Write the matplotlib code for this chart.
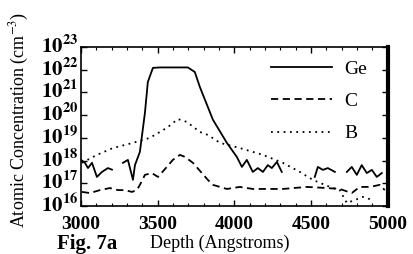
import numpy as np
import matplotlib
matplotlib.use("Agg")
import matplotlib.pyplot as plt
import matplotlib.transforms as mtransforms
from matplotlib.ticker import FixedLocator, FixedFormatter, MultipleLocator

plt.rcParams['font.family'] = ['Liberation Serif', 'DejaVu Serif']
plt.rcParams['mathtext.fontset'] = 'stix'

# Ge (solid) depth (Angstrom) and log10 concentration; NaN = gap
ge_depth = [3000, 3026, 3046, 3072, 3104, 3137, 3176, 3202, 3267, 3274, 3306, 3339, 3352, 3384,
            3417, 3436, 3469, 3515, 3697, 3742, 3775, 3860, 3951, 4016, 4049, 4081, 4120, 4153,
            4186, 4218, 4244, 4277, 4309, 4400, 4524, 4544, 4577, 4609, 4655, 4700, 4733, 4765,
            4798, 4830, 4863, 4896, 4928, 4961]
ge_log = [18.03, 17.9, 17.67, 17.9, 17.28, 17.5, 17.67, 17.6, np.nan, 17.9, 18.03, 17.15, 17.8, 18.38,
          20.1, 21.46, 22.08, 22.1, 22.1, 21.9, 21.24, 19.8, 18.78, 18.16, 17.72, 18.03, 17.5, 17.67,
          17.5, 17.8, 17.67, 17.94, 17.5, np.nan, 17.28, 17.72, 17.59, 17.67, 17.5, np.nan, 17.5, 17.72,
          17.37, 17.8, 17.45, 17.59, 17.28, 17.45]

# C (dashed)
c_depth = [3006, 3059, 3124, 3189, 3241, 3287, 3332, 3365, 3384, 3417, 3462, 3502, 3560, 3599,
           3645, 3678, 3730, 3788, 3827, 3860, 3951, 4036, 4120, 4316, 4472, 4603, 4687, 4765,
           4817, 4883, 4948, 4980]
c_log = [16.62, 16.57, 16.7, 16.79, 16.7, 16.7, 16.62, 16.7, 16.93, 17.37, 17.45, 17.28, 17.72, 18.03,
         18.25, 18.16, 17.9, 17.45, 17.15, 16.93, 16.75, 16.84, 16.75, 16.75, 16.84, 16.79, 16.75, 16.57,
         16.84, 16.84, 16.93, 16.7]

# B (dotted)
b_depth = [3006, 3104, 3208, 3339, 3449, 3560, 3632, 3690, 3775, 3827, 3906, 4036, 4186, 4316,
           4427, 4511, 4622, 4687, 4733, 4837, 4902]
b_log = [17.9, 18.25, 18.55, 18.78, 19.0, 19.44, 19.83, 19.7, 19.26, 19.13, 18.78, 18.55, 18.25, 17.9,
         17.5, 17.15, 16.84, 16.7, 16.13, 16.4, 16.26]

x_ticks = [3000, 3500, 4000, 4500, 5000]
y_exps = [16, 17, 18, 19, 20, 21, 22, 23]

fig = plt.figure(figsize=(4.13, 2.54), dpi=100)
ax = fig.add_axes([0.196, 0.189, 0.743, 0.626])

ax.plot(ge_depth, 10 ** np.array(ge_log), color='black', lw=1.3, label='Ge')
ax.plot(c_depth, 10 ** np.array(c_log), color='black', lw=1.3, ls=(0, (4, 2.5)), label='C')
ax.plot(b_depth, 10 ** np.array(b_log), color='black', lw=1.3, ls=(0, (1, 2.5)), label='B')

ax.set_yscale('log')
ax.set_xlim(3000, 5000)
ax.set_ylim(1e16, 1e23)
ax.xaxis.set_major_locator(FixedLocator(x_ticks))
ax.xaxis.set_minor_locator(MultipleLocator(100))
ax.yaxis.set_major_locator(FixedLocator([10.0 ** e for e in y_exps]))
ax.yaxis.set_major_formatter(FixedFormatter([r'$\mathbf{10^{%d}}$' % e for e in y_exps]))
ax.yaxis.set_minor_locator(FixedLocator([]))
ax.tick_params(which='both', direction='in', top=True, right=True)
ax.tick_params(which='major', length=4, width=1)
ax.tick_params(which='minor', length=2, width=0.8)
ax.tick_params(axis='x', labelsize=14, pad=7)
ax.tick_params(axis='y', labelsize=15, pad=2)
for lab in ax.get_xticklabels():
    lab.set_fontweight('bold')
shift = mtransforms.ScaledTranslation(0, 2.0 / 72, fig.dpi_scale_trans)
for lab in ax.get_yticklabels():
    lab.set_transform(lab.get_transform() + shift)
for s in ['left', 'top', 'bottom']:
    ax.spines[s].set_linewidth(1.2)
ax.spines['right'].set_linewidth(3)

leg = ax.legend(loc='upper right', bbox_to_anchor=(0.957, 0.964), frameon=False, fontsize=14,
                handlelength=3.15, labelspacing=0.75, handletextpad=0.6, borderaxespad=0,
                borderpad=0.4)

fig.text(0.046, 0.528, r'Atomic Concentration (cm$^{-3}$)', rotation=90,
         ha='center', va='center', fontsize=13)
fig.text(0.138, 0.04, 'Fig. 7a', fontsize=15, fontweight='bold', ha='left', va='center')
fig.text(0.363, 0.04, 'Depth (Angstroms)', fontsize=13, ha='left', va='center')

fig.savefig('out.png', dpi=100)
